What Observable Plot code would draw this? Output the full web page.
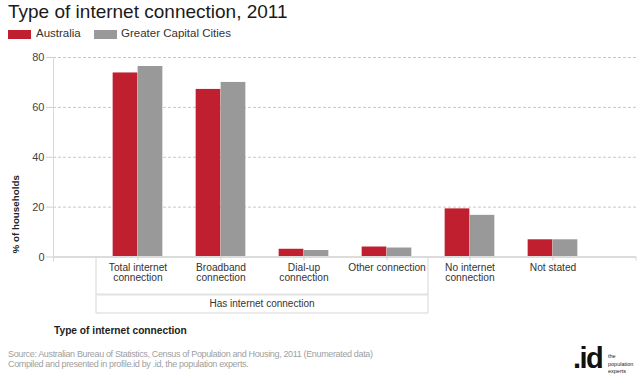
<!DOCTYPE html>
<html>
<head>
<meta charset="utf-8">
<script src="https://cdn.jsdelivr.net/npm/d3@7"></script>
<script src="https://cdn.jsdelivr.net/npm/@observablehq/plot@0.6"></script>
<style>
  html, body { margin: 0; padding: 0; background: #fff; }
  #wrap { position: relative; width: 640px; height: 380px; overflow: hidden;
          font-family: "Liberation Sans", Arial, sans-serif; color: #333; }
  #title { position: absolute; left: 8px; top: 1px; font-size: 19px; color: #1a1a1a; white-space: nowrap; }
  .lg { position: absolute; top: 30px; height: 9px; width: 23px; }
  .lgt { position: absolute; top: 27px; font-size: 11.5px; color: #333; white-space: nowrap; }
  #chart { position: absolute; left: 0; top: 44px; }
  .foot { position: absolute; left: 8px; font-size: 9px; letter-spacing: -0.35px; color: #a0a0a0; white-space: nowrap; }
  #logo { position: absolute; left: 572px; top: 342px; width: 68px; height: 36px; }
</style>
</head>
<body>
<div id="wrap">
  <div id="title">Type of internet connection, 2011</div>
  <div class="lg" id="sw1" style="left:8px"></div>
  <div class="lgt" id="lt1" style="left:36px"></div>
  <div class="lg" id="sw2" style="left:94px"></div>
  <div class="lgt" id="lt2" style="left:121px"></div>
  <div id="chart"></div>
  <div class="foot" style="top:349px">Source: Australian Bureau of Statistics, Census of Population and Housing, 2011 (Enumerated data)</div>
  <div class="foot" style="top:359px">Compiled and presented in profile.id by .id, the population experts.</div>
  <div id="logo">
    <span style="position:absolute;left:1px;top:-1px;font-size:29px;line-height:34px;font-weight:bold;color:#111;letter-spacing:-1.5px">.id</span>
    <span style="position:absolute;left:36px;top:11px;font-size:5.5px;line-height:7.5px;color:#222;white-space:nowrap">the<br>population<br>experts</span>
  </div>
</div>
<script>
// ---- data ----
const categories = [
  "Total internet connection",
  "Broadband connection",
  "Dial-up connection",
  "Other connection",
  "No internet connection",
  "Not stated"
];
const tickLabels = [
  "Total internet\nconnection",
  "Broadband\nconnection",
  "Dial-up\nconnection",
  "Other connection",
  "No internet\nconnection",
  "Not stated"
];
const seriesNames = ["Australia", "Greater Capital Cities"];
const australia = [73.8, 67.2, 3.1, 4.0, 19.3, 6.9];
const greaterCapitalCities = [76.4, 70.0, 2.6, 3.6, 16.7, 6.9];
const yTicks = [0, 20, 40, 60, 80];
const groupLabel = "Has internet connection";
const groupCount = 4; // first four categories belong to the group
const yTitle = "% of households";
const xTitle = "Type of internet connection";

const colors = ["#c01f2f", "#999999"];

document.getElementById("sw1").style.background = colors[0];
document.getElementById("sw2").style.background = colors[1];
document.getElementById("lt1").textContent = seriesNames[0];
document.getElementById("lt2").textContent = seriesNames[1];

const ausData = categories.map((c, i) => ({cat: c, value: australia[i]}));
const gccData = categories.map((c, i) => ({cat: c, value: greaterCapitalCities[i]}));
const labelOf = new Map(categories.map((c, i) => [c, tickLabels[i]]));

const W = 640, H = 300, mL = 53, mR = 4, mT = 13, mB = 87.5;
const xOpts = {type: "band", domain: categories, paddingInner: 0, paddingOuter: 0.5, range: [mL, W - mR]};
const bw = Plot.scale({x: xOpts}).bandwidth;

const font = '"Liberation Sans", Arial, sans-serif';
const fs = 10.2;

const svg = Plot.plot({
  width: W, height: H,
  marginLeft: mL, marginRight: mR, marginTop: mT, marginBottom: mB,
  style: {fontFamily: font, fontSize: fs + "px", color: "#444", background: "white"},
  x: {domain: categories, paddingInner: 0, paddingOuter: 0.5, label: null},
  y: {domain: [0, 80], label: null},
  marks: [
    Plot.gridY(yTicks.filter(d => d > 0), {stroke: "#c8c8c8", strokeOpacity: 1, strokeDasharray: "3,2"}),
    Plot.barY(ausData, {x: "cat", y: "value", fill: colors[0], insetLeft: 0.2 * bw, insetRight: 0.5 * bw}),
    Plot.barY(gccData, {x: "cat", y: "value", fill: colors[1], insetLeft: 0.5 * bw, insetRight: 0.2 * bw}),
    Plot.ruleY([0], {stroke: "#dcdcdc", strokeWidth: 2}),
    Plot.frame({anchor: "left", stroke: "#d8d8d8", insetBottom: -4}),
    Plot.axisY(yTicks, {tickSize: 7, tickPadding: 2, stroke: "#cfcfcf", fill: "#444", label: null, fontSize: 11}),
    Plot.axisX({tickSize: 4, tickPadding: 3, stroke: "#cfcfcf", fill: "#333", label: null, fontSize: fs,
                tickFormat: d => labelOf.get(d)})
  ]
});

document.getElementById("chart").appendChild(svg);

// ---- group box, axis titles (positioned from the plot's own scales) ----
const xs = svg.scale("x"), ys = svg.scale("y");
const y0 = ys.apply(0);
const gx1 = xs.apply(categories[0]);
const gx2 = xs.apply(categories[groupCount - 1]) + xs.bandwidth;
const sel = d3.select(svg);
const g = sel.append("g").attr("stroke", "#d6d6d6").attr("fill", "none");
g.append("line").attr("x1", gx1).attr("x2", gx1).attr("y1", y0).attr("y2", y0 + 56.5);
g.append("line").attr("x1", gx2).attr("x2", gx2).attr("y1", y0).attr("y2", y0 + 56.5);
g.append("line").attr("x1", gx1).attr("x2", gx2).attr("y1", y0 + 38).attr("y2", y0 + 38).attr("stroke-width", 2).attr("stroke", "#e2e2e2");
g.append("line").attr("x1", gx1).attr("x2", gx2).attr("y1", y0 + 56.5).attr("y2", y0 + 56.5);
const xr = xs.range[1];
g.append("line").attr("x1", xr).attr("x2", xr).attr("y1", y0).attr("y2", y0 + 4);

sel.append("text")
  .attr("x", (gx1 + gx2) / 2).attr("y", y0 + 47).attr("dy", "0.35em")
  .attr("text-anchor", "middle").attr("fill", "#333")
  .attr("font-family", font).attr("font-size", 10)
  .text(groupLabel);

sel.append("text")
  .attr("x", mL + 1).attr("y", y0 + 77.5)
  .attr("text-anchor", "start")
  .attr("fill", "#222").attr("font-weight", "bold")
  .attr("font-family", font).attr("font-size", fs)
  .text(xTitle);

sel.append("text")
  .attr("transform", `translate(19,${y0 - 3}) rotate(-90)`)
  .attr("text-anchor", "start")
  .attr("fill", "#222").attr("font-weight", "bold")
  .attr("font-family", font).attr("font-size", 9.8)
  .text(yTitle);
</script>
</body>
</html>
